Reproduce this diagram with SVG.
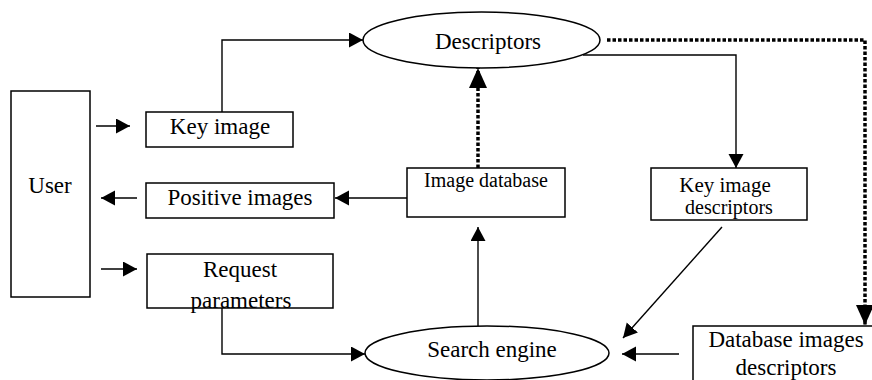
<svg xmlns="http://www.w3.org/2000/svg" width="872" height="380" viewBox="0 0 872 380">
  <defs>
    <marker id="arrow" markerUnits="userSpaceOnUse" markerWidth="16" markerHeight="16" refX="14" refY="7.5" orient="auto">
      <path d="M0,0 L14,7.5 L0,15 z" fill="#000"/>
    </marker>
    <marker id="arrow-big" markerUnits="userSpaceOnUse" markerWidth="22" markerHeight="20" refX="20" refY="9" orient="auto">
      <path d="M0,0 L20,9 L0,18 z" fill="#000"/>
    </marker>
  </defs>
  <style>
    .box { fill: #fff; stroke: #000; stroke-width: 1.5; }
    .oval { fill: #fff; stroke: #000; stroke-width: 1.5; }
    .lbl { font-family: 'Liberation Serif', 'Times New Roman', serif; font-size: 23px; fill: #000; text-anchor: middle; }
    .mid { font-size: 21px; }
    .small { font-size: 20px; }
    .link { fill: none; stroke: #000; stroke-width: 1.4; marker-end: url(#arrow); }
    .dotted { fill: none; stroke: #000; stroke-width: 3.5; stroke-dasharray: 3.5 2; marker-end: url(#arrow-big); }
  </style>

  <g id="connectors">
    <path class="link" d="M96,126 H130"/>
    <path class="link" d="M222,112 V40 H363"/>
    <path class="link" d="M583,55 H736 V168"/>
    <path class="dotted" d="M478,168 V68"/>
    <path class="dotted" d="M607,40 H865 V325"/>
    <path class="link" d="M407,198 H335"/>
    <path class="link" d="M137,198 H101"/>
    <path class="link" d="M101,269 H137"/>
    <path class="link" d="M222,308 V354 H365"/>
    <path class="link" d="M478,326 V227"/>
    <path class="link" d="M722,227 L623,338"/>
    <path class="link" d="M679,354 H622"/>
  </g>

  <g id="user">
    <rect class="box" x="11" y="91" width="79" height="206"/>
    <text class="lbl" x="50" y="193">User</text>
  </g>

  <g id="key-image">
    <rect class="box" x="146" y="112" width="147" height="35"/>
    <text class="lbl" x="220" y="134">Key image</text>
  </g>

  <g id="positive-images">
    <rect class="box" x="146" y="183" width="188" height="35"/>
    <text class="lbl" x="240" y="205">Positive images</text>
  </g>

  <g id="request-parameters">
    <rect class="box" x="147" y="254" width="186" height="54"/>
    <text class="lbl" x="240" y="277">Request</text>
    <text class="lbl" x="241" y="308">parameters</text>
  </g>

  <g id="descriptors">
    <ellipse class="oval" cx="481.5" cy="40" rx="118.5" ry="28"/>
    <text class="lbl" x="488" y="49">Descriptors</text>
  </g>

  <g id="image-database">
    <rect class="box" x="407" y="168" width="158" height="49"/>
    <text class="lbl small" x="486" y="187">Image database</text>
  </g>

  <g id="key-image-descriptors">
    <rect class="box" x="651" y="168" width="156" height="52"/>
    <text class="lbl mid" x="725" y="192">Key image</text>
    <text class="lbl small" x="729" y="214">descriptors</text>
  </g>

  <g id="search-engine">
    <ellipse class="oval" cx="487" cy="353" rx="122" ry="27"/>
    <text class="lbl" x="492" y="357">Search engine</text>
  </g>

  <g id="database-images-descriptors">
    <rect class="box" x="693" y="326" width="190" height="70"/>
    <text class="lbl" x="786" y="347">Database images</text>
    <text class="lbl" x="786" y="375">descriptors</text>
  </g>
</svg>
